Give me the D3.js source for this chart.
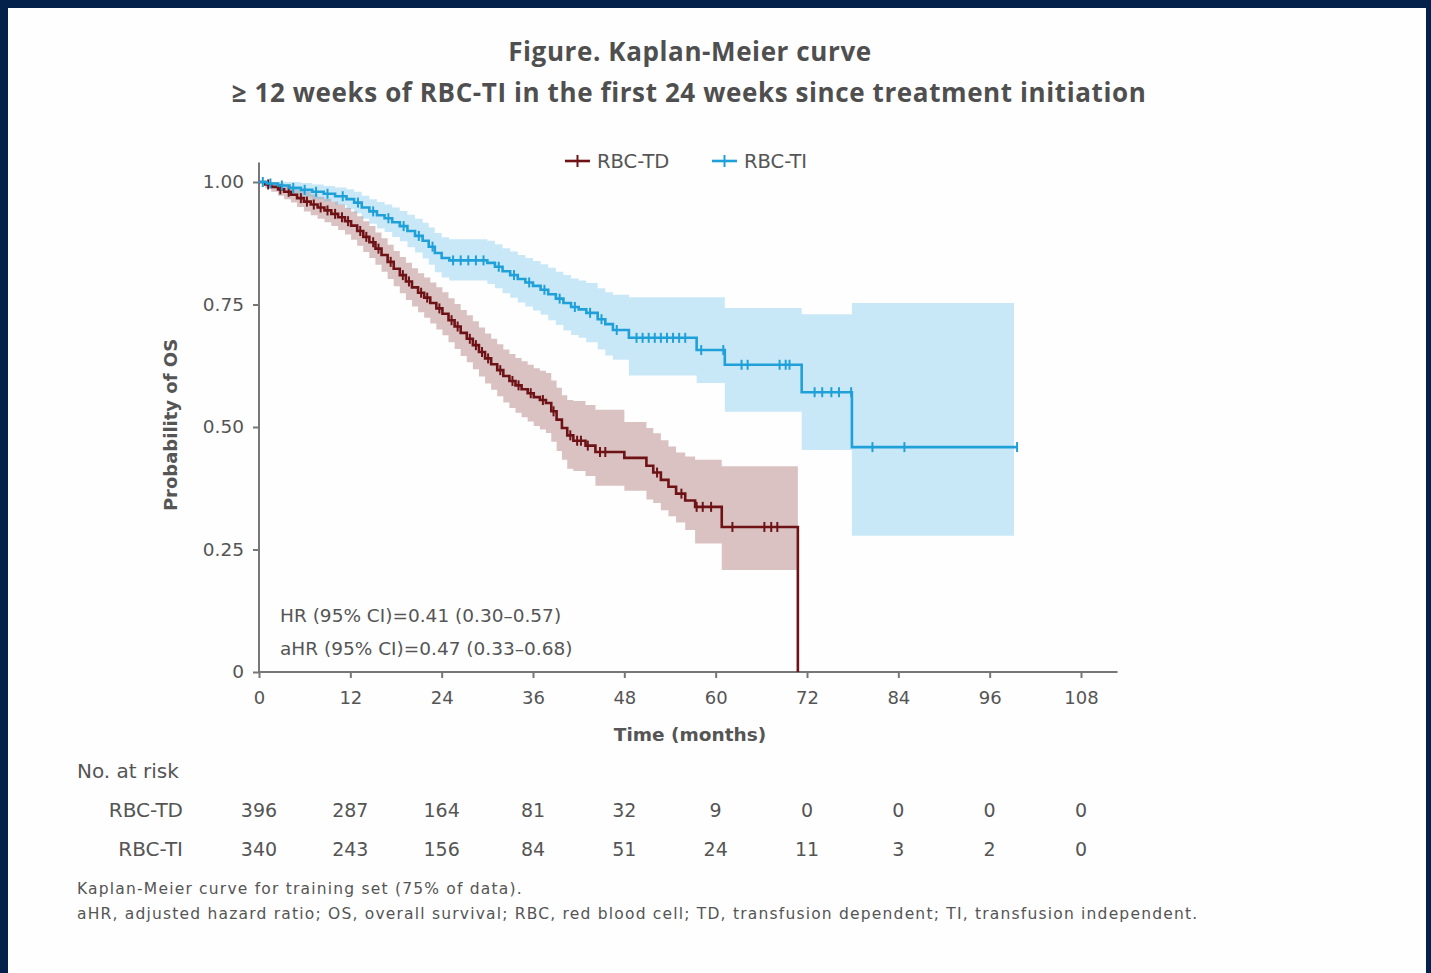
<!DOCTYPE html>
<html>
<head>
<meta charset="utf-8">
<script src="https://cdn.jsdelivr.net/npm/d3@7/dist/d3.min.js"></script>
<style>
  html, body { margin: 0; padding: 0; background: #03214a; }
  svg { display: block; }
  text { font-family: "DejaVu Sans", "Noto Sans", sans-serif; fill: #555; }
  .title { font-family: "Open Sans", "Noto Sans", sans-serif; font-weight: 700; letter-spacing: 0.6px; fill: #4f4f4f; }
  .note { letter-spacing: 1.2px; }
</style>
</head>
<body>
<svg id="chart" width="1431" height="973"></svg>
<script>
// ---- Kaplan-Meier estimates (months, survival, 95% CI lower, 95% CI upper) ----
// RBC-TD (transfusion dependent)
const tdTime = [0, 0.8, 1.6, 2.5, 3.3, 4.2, 5.0, 5.9, 6.8, 7.7, 8.6, 9.5, 10.4, 11.3, 12.1, 12.9, 13.7, 14.5, 15.3, 16.1, 16.9, 17.7, 18.5, 19.3, 20.1, 20.9, 21.7, 22.5, 23.3, 24.1, 24.9, 25.7, 26.5, 27.3, 28.1, 28.9, 29.7, 30.5, 31.3, 32.1, 32.9, 33.7, 34.5, 35.3, 36.1, 36.9, 37.7, 38.4, 39.1, 39.8, 40.5, 41.3, 42.9, 44.2, 48.0, 50.9, 51.8, 52.8, 53.8, 54.8, 56.0, 57.3, 60.8];
const tdSurv = [1.000, 0.995, 0.990, 0.985, 0.980, 0.974, 0.967, 0.960, 0.954, 0.948, 0.942, 0.935, 0.928, 0.920, 0.911, 0.900, 0.888, 0.877, 0.864, 0.851, 0.837, 0.823, 0.810, 0.797, 0.785, 0.774, 0.764, 0.753, 0.742, 0.731, 0.718, 0.705, 0.692, 0.680, 0.667, 0.653, 0.640, 0.628, 0.616, 0.604, 0.594, 0.585, 0.577, 0.569, 0.561, 0.555, 0.549, 0.532, 0.515, 0.498, 0.483, 0.472, 0.462, 0.449, 0.437, 0.421, 0.407, 0.392, 0.378, 0.364, 0.350, 0.337, 0.296];
const tdLower = [1.000, 0.988, 0.980, 0.972, 0.965, 0.958, 0.949, 0.940, 0.932, 0.925, 0.918, 0.910, 0.902, 0.893, 0.882, 0.870, 0.857, 0.845, 0.831, 0.817, 0.802, 0.787, 0.773, 0.759, 0.746, 0.734, 0.723, 0.711, 0.699, 0.687, 0.673, 0.659, 0.645, 0.632, 0.618, 0.603, 0.589, 0.576, 0.563, 0.550, 0.539, 0.529, 0.520, 0.511, 0.502, 0.495, 0.488, 0.470, 0.451, 0.433, 0.415, 0.410, 0.400, 0.380, 0.370, 0.352, 0.345, 0.330, 0.318, 0.305, 0.290, 0.262, 0.208];
const tdUpper = [1.000, 1.000, 1.000, 0.997, 0.994, 0.990, 0.985, 0.980, 0.975, 0.970, 0.966, 0.960, 0.954, 0.947, 0.940, 0.930, 0.920, 0.910, 0.897, 0.885, 0.872, 0.859, 0.847, 0.835, 0.824, 0.814, 0.805, 0.795, 0.785, 0.775, 0.763, 0.751, 0.739, 0.728, 0.716, 0.703, 0.691, 0.680, 0.669, 0.658, 0.649, 0.641, 0.634, 0.627, 0.620, 0.615, 0.610, 0.595, 0.580, 0.565, 0.555, 0.553, 0.545, 0.535, 0.510, 0.498, 0.487, 0.473, 0.460, 0.448, 0.440, 0.433, 0.420];
const tdLastTime = 70.8;   // last follow-up, curve drops to 0
const tdCensor = [1.2, 2.8, 3.9, 5.5, 6.3, 7.2, 8.1, 9.0, 10.0, 10.9, 11.7, 13.3, 14.1, 15.0, 15.7, 17.3, 18.9, 19.7, 21.3, 22.1, 23.7, 25.3, 26.1, 27.7, 28.5, 29.3, 30.1, 31.7, 33.3, 34.1, 35.7, 37.3, 38.7, 40.9, 41.8, 42.3, 43.2, 44.8, 45.5, 52.3, 55.5, 57.5, 58.3, 59.4, 62.2, 66.4, 67.3, 68.1];

// RBC-TI (transfusion independent)
const tiTime = [0, 1.0, 2.5, 4.0, 5.5, 7.0, 8.5, 10.0, 11.5, 12.5, 13.5, 14.5, 15.5, 16.5, 17.5, 18.5, 19.5, 20.5, 21.5, 22.3, 23.1, 24.0, 25.0, 30.0, 31.0, 32.0, 33.0, 34.0, 35.0, 36.0, 37.0, 38.0, 39.0, 40.0, 41.0, 42.0, 43.0, 44.5, 45.5, 46.5, 48.6, 57.5, 61.2, 71.3, 77.9];
const tiSurv = [1.000, 0.997, 0.993, 0.988, 0.984, 0.980, 0.976, 0.971, 0.965, 0.958, 0.948, 0.940, 0.932, 0.926, 0.918, 0.910, 0.900, 0.890, 0.880, 0.868, 0.855, 0.845, 0.840, 0.835, 0.827, 0.818, 0.810, 0.802, 0.795, 0.788, 0.780, 0.771, 0.762, 0.753, 0.745, 0.740, 0.733, 0.720, 0.710, 0.698, 0.682, 0.657, 0.627, 0.571, 0.459];
const tiLower = [1.000, 0.991, 0.984, 0.976, 0.970, 0.965, 0.960, 0.953, 0.945, 0.936, 0.925, 0.915, 0.905, 0.898, 0.888, 0.879, 0.867, 0.856, 0.844, 0.831, 0.816, 0.805, 0.799, 0.792, 0.783, 0.773, 0.764, 0.754, 0.746, 0.738, 0.729, 0.718, 0.708, 0.697, 0.688, 0.682, 0.673, 0.658, 0.646, 0.637, 0.605, 0.590, 0.531, 0.453, 0.278];
const tiUpper = [1.000, 1.000, 1.000, 1.000, 0.998, 0.995, 0.992, 0.989, 0.985, 0.980, 0.972, 0.965, 0.959, 0.954, 0.948, 0.941, 0.933, 0.925, 0.917, 0.907, 0.896, 0.887, 0.883, 0.880, 0.873, 0.865, 0.858, 0.851, 0.845, 0.839, 0.832, 0.825, 0.817, 0.810, 0.803, 0.799, 0.794, 0.783, 0.775, 0.770, 0.765, 0.765, 0.743, 0.730, 0.753];
const tiLastTime = 99.6;
const tiBandEnd = 99.2;
const tiCensor = [0.5, 1.5, 3.0, 4.5, 6.0, 7.5, 9.0, 11.0, 13.0, 15.0, 17.0, 19.0, 21.0, 22.8, 25.5, 26.5, 27.5, 28.5, 29.5, 31.5, 33.5, 35.5, 37.5, 39.5, 41.5, 43.5, 45.0, 47.0, 49.6, 50.4, 51.2, 52.0, 52.8, 53.6, 54.4, 55.2, 56.0, 58.1, 61.0, 63.4, 64.2, 68.4, 69.2, 69.7, 73.0, 74.0, 75.2, 76.2, 77.8, 80.6, 84.8, 99.6];

// ---- Axis ticks and number at risk ----
const xTicks = [0, 12, 24, 36, 48, 60, 72, 84, 96, 108];
const yTicks = [0, 0.25, 0.5, 0.75, 1.0];
const groups = ["RBC-TD", "RBC-TI"];
const tdRisk = [396, 287, 164, 81, 32, 9, 0, 0, 0, 0];
const tiRisk = [340, 243, 156, 84, 51, 24, 11, 3, 2, 0];

const colTD = "#6e1216", colTI = "#1fa0d9";
const bandTD = "rgb(150,80,80)", bandTI = "rgb(100,190,235)";

const svg = d3.select("#chart");

// white page panel
svg.append("rect").attr("x", 8).attr("y", 8).attr("width", 1418).attr("height", 975).attr("fill", "#fefefe");

const x = d3.scaleLinear().domain([0, 108]).range([259, 1081]);
const y = d3.scaleLinear().domain([0, 1]).range([672, 182]);

// titles
svg.append("text").attr("class", "title").attr("x", 690).attr("y", 61).attr("text-anchor", "middle")
  .style("font-size", "26px").text("Figure. Kaplan-Meier curve");
svg.append("text").attr("class", "title").attr("x", 689).attr("y", 102).attr("text-anchor", "middle")
  .style("font-size", "26px")
  .text("≥ 12 weeks of RBC-TI in the first 24 weeks since treatment initiation");

// confidence bands
function bandData(t, lo, hi, end) {
  const d = t.map((v, i) => ({ t: v, lo: lo[i], hi: hi[i] }));
  d.push({ t: end, lo: lo[lo.length - 1], hi: hi[hi.length - 1] });
  return d;
}
const area = d3.area().curve(d3.curveStepAfter)
  .x(d => x(d.t)).y0(d => y(d.lo)).y1(d => y(d.hi));
svg.append("path").datum(bandData(tdTime, tdLower, tdUpper, tdLastTime))
  .attr("d", area).attr("fill", bandTD).attr("fill-opacity", 0.34);
svg.append("path").datum(bandData(tiTime, tiLower, tiUpper, tiBandEnd))
  .attr("d", area).attr("fill", bandTI).attr("fill-opacity", 0.34);

// axes
const axisCol = "#777";
const gy = svg.append("g").attr("transform", `translate(${x(0)},0)`)
  .call(d3.axisLeft(y).tickValues(yTicks).tickSize(6).tickPadding(9)
    .tickFormat(d => d === 0 ? "0" : d3.format(".2f")(d)));
gy.select(".domain").remove();
gy.selectAll(".tick line").attr("stroke", axisCol).attr("stroke-width", 2);
gy.selectAll(".tick text").style("font-size", "18.5px").attr("fill", "#555")
  .style("font-family", "'DejaVu Sans', sans-serif");
svg.append("line").attr("x1", x(0)).attr("x2", x(0)).attr("y1", y(1.04)).attr("y2", y(0) + 1)
  .attr("stroke", axisCol).attr("stroke-width", 2);

const gx = svg.append("g").attr("transform", `translate(0,${y(0)})`)
  .call(d3.axisBottom(x).tickValues(xTicks).tickSize(6).tickPadding(13));
gx.select(".domain").remove();
gx.selectAll(".tick line").attr("stroke", axisCol).attr("stroke-width", 2);
gx.selectAll(".tick text").style("font-size", "18px").attr("fill", "#555")
  .style("font-family", "'DejaVu Sans', sans-serif");
svg.append("line").attr("x1", x(0) - 1).attr("x2", x(112.8)).attr("y1", y(0)).attr("y2", y(0))
  .attr("stroke", axisCol).attr("stroke-width", 2);

svg.append("text").attr("x", 690).attr("y", 741).attr("text-anchor", "middle")
  .style("font-size", "18.5px").style("font-weight", "bold").text("Time (months)");
svg.append("text").attr("transform", "translate(177,425) rotate(-90)").attr("text-anchor", "middle")
  .style("font-size", "18px").style("font-weight", "bold").text("Probability of OS");

// survival curves
const line = d3.line().curve(d3.curveStepAfter).x(d => x(d.t)).y(d => y(d.s));
const tdLine = tdTime.map((t, i) => ({ t, s: tdSurv[i] }));
tdLine.push({ t: tdLastTime, s: 0 });
const tiLine = tiTime.map((t, i) => ({ t, s: tiSurv[i] }));
tiLine.push({ t: tiLastTime, s: tiSurv[tiSurv.length - 1] });

function survAt(times, surv, t) {
  let s = surv[0];
  for (let i = 0; i < times.length; i++) if (times[i] <= t) s = surv[i];
  return s;
}

function drawCurve(data, times, surv, censor, col) {
  svg.append("path").datum(data).attr("d", line).attr("fill", "none")
    .attr("stroke", col).attr("stroke-width", 2.6);
  svg.append("g").selectAll("line").data(censor).join("line")
    .attr("x1", d => x(d)).attr("x2", d => x(d))
    .attr("y1", d => y(survAt(times, surv, d)) - 5)
    .attr("y2", d => y(survAt(times, surv, d)) + 5)
    .attr("stroke", col).attr("stroke-width", 2);
}
drawCurve(tdLine, tdTime, tdSurv, tdCensor, colTD);
drawCurve(tiLine, tiTime, tiSurv, tiCensor, colTI);

// legend
const legend = svg.append("g");
[[565, colTD, groups[0]], [712, colTI, groups[1]]].forEach(([lx, c, name]) => {
  legend.append("line").attr("x1", lx).attr("x2", lx + 25).attr("y1", 161).attr("y2", 161)
    .attr("stroke", c).attr("stroke-width", 2.6);
  legend.append("line").attr("x1", lx + 12.5).attr("x2", lx + 12.5).attr("y1", 155).attr("y2", 167)
    .attr("stroke", c).attr("stroke-width", 2);
  legend.append("text").attr("x", lx + 32).attr("y", 168).style("font-size", "19.5px").text(name);
});

// hazard ratios
svg.append("text").attr("x", 280).attr("y", 622).style("font-size", "18.5px")
  .text("HR (95% CI)=0.41 (0.30–0.57)");
svg.append("text").attr("x", 280).attr("y", 655).style("font-size", "18.5px")
  .text("aHR (95% CI)=0.47 (0.33–0.68)");

// number at risk table
svg.append("text").attr("x", 77).attr("y", 778).style("font-size", "20px").text("No. at risk");
[[tdRisk, groups[0], 817], [tiRisk, groups[1], 856]].forEach(([vals, name, ry]) => {
  svg.append("text").attr("x", 183).attr("y", ry).attr("text-anchor", "end")
    .style("font-size", "20px").text(name);
  svg.append("g").selectAll("text").data(vals).join("text")
    .attr("x", (d, i) => x(xTicks[i])).attr("y", ry).attr("text-anchor", "middle")
    .style("font-size", "19px").text(d => d);
});

// footnotes
svg.append("text").attr("class", "note").attr("x", 77).attr("y", 894).style("font-size", "15.5px")
  .text("Kaplan-Meier curve for training set (75% of data).");
svg.append("text").attr("class", "note").attr("x", 77).attr("y", 919).style("font-size", "15.5px")
  .text("aHR, adjusted hazard ratio; OS, overall survival; RBC, red blood cell; TD, transfusion dependent; TI, transfusion independent.");
</script>
</body>
</html>
